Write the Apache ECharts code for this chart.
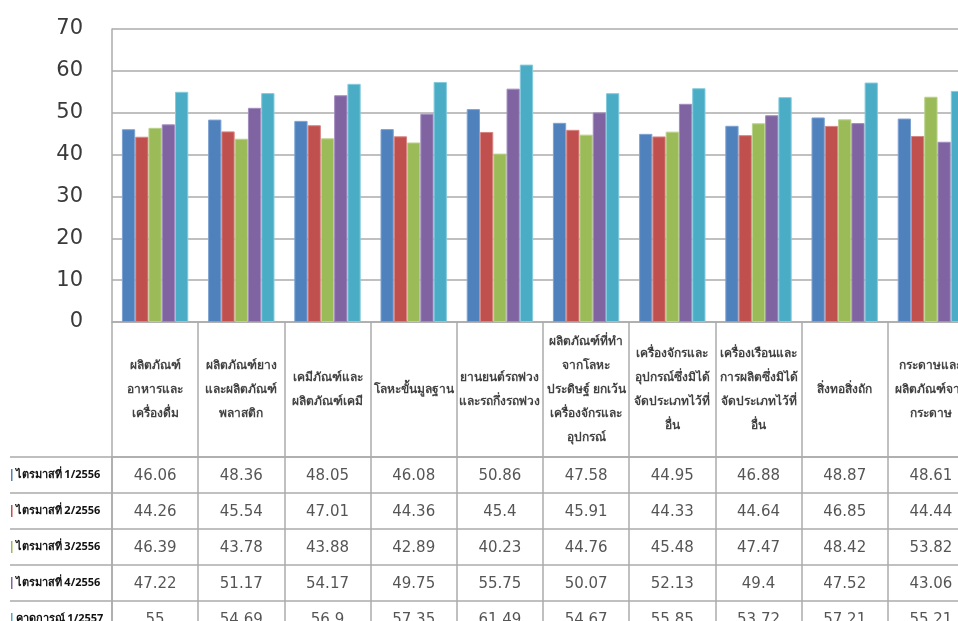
<!DOCTYPE html>
<html>
<head>
<meta charset="utf-8">
<script src="https://cdn.jsdelivr.net/npm/echarts@6/dist/echarts.min.js"></script>
<style>
html,body{margin:0;padding:0;background:#fff;overflow:hidden;width:958px;height:621px;}
#chart{width:990px;height:621px;}
</style>
</head>
<body>
<div id="chart"></div>
<script>
const categories = [
  'ผลิตภัณฑ์\nอาหารและ\nเครื่องดื่ม',
  'ผลิตภัณฑ์ยาง\nและผลิตภัณฑ์\nพลาสติก',
  'เคมีภัณฑ์และ\nผลิตภัณฑ์เคมี',
  'โลหะขั้นมูลฐาน',
  'ยานยนต์รถพ่วง\nและรถกึ่งรถพ่วง',
  'ผลิตภัณฑ์ที่ทำ\nจากโลหะ\nประดิษฐ์ ยกเว้น\nเครื่องจักรและ\nอุปกรณ์',
  'เครื่องจักรและ\nอุปกรณ์ซึ่งมิได้\nจัดประเภทไว้ที่\nอื่น',
  'เครื่องเรือนและ\nการผลิตซึ่งมิได้\nจัดประเภทไว้ที่\nอื่น',
  'สิ่งทอสิ่งถัก',
  'กระดาษและ\nผลิตภัณฑ์จาก\nกระดาษ'
];
const seriesNames = ['ไตรมาสที่ 1/2556', 'ไตรมาสที่ 2/2556', 'ไตรมาสที่ 3/2556', 'ไตรมาสที่ 4/2556', 'คาดการณ์ 1/2557'];
const q1_2556 = [46.06, 48.36, 48.05, 46.08, 50.86, 47.58, 44.95, 46.88, 48.87, 48.61];
const q2_2556 = [44.26, 45.54, 47.01, 44.36, 45.4, 45.91, 44.33, 44.64, 46.85, 44.44];
const q3_2556 = [46.39, 43.78, 43.88, 42.89, 40.23, 44.76, 45.48, 47.47, 48.42, 53.82];
const q4_2556 = [47.22, 51.17, 54.17, 49.75, 55.75, 50.07, 52.13, 49.4, 47.52, 43.06];
const f1_2557 = [55, 54.69, 56.9, 57.35, 61.49, 54.67, 55.85, 53.72, 57.21, 55.21];
const yTicks = { min: 0, max: 70, interval: 10 };

const allValues = [q1_2556, q2_2556, q3_2556, q4_2556, f1_2557];
const colors = ['#4F81BD', '#C0504D', '#9BBB59', '#8064A2', '#4BACC6'];
const borderColors = ['#7EA3D3', '#D88583', '#B9D28A', '#A38DC0', '#84CBDD'];
const gridColor = '#ABABAB';
const thaiFont = '"Noto Sans", "DejaVu Sans", sans-serif';

const chart = echarts.init(document.getElementById('chart'), null, { renderer: 'canvas' });

const rich = { t: { fontSize: 11, fontWeight: 'bold', color: '#111', fontFamily: thaiFont, padding: [0, 0, 0, 3] } };
colors.forEach((c, i) => { rich['k' + i] = { width: 1.5, height: 12, backgroundColor: c }; });

const barSeries = allValues.map((vals, i) => ({
  name: seriesNames[i],
  type: 'bar',
  xAxisIndex: 0,
  yAxisIndex: 0,
  data: vals,
  barGap: '0%',
  barCategoryGap: '23%',
  itemStyle: { color: colors[i], borderColor: borderColors[i], borderWidth: 1 },
  silent: true
}));

const cellData = [];
allValues.forEach((vals, s) => vals.forEach((v, c) => cellData.push([c, s, v])));

const headerData = categories.map((name, c) => [c, 0.5]);

const gridBase = { containLabel: false, outerBoundsMode: 'none' };
const lineStyle = { color: gridColor, width: 1.5 };

chart.setOption({
  animation: false,
  grid: [
    Object.assign({ left: 112, top: 29, width: 862, height: 293 }, gridBase),
    Object.assign({ left: 112, top: 322, width: 862, height: 135 }, gridBase),
    Object.assign({ left: 112, top: 457, width: 862, height: 180 }, gridBase)
  ],
  xAxis: [
    {
      gridIndex: 0, type: 'category', data: categories,
      axisLine: { show: true, lineStyle: lineStyle },
      axisTick: { show: false }, axisLabel: { show: false, interval: 0 }, splitLine: { show: false }
    },
    {
      gridIndex: 1, type: 'category', data: categories,
      axisLine: { show: true, lineStyle: lineStyle },
      axisTick: { show: false, interval: 0 }, axisLabel: { show: false, interval: 0 },
      splitLine: { show: true, interval: 0, lineStyle: lineStyle }
    },
    {
      gridIndex: 2, type: 'category', data: categories,
      axisLine: { show: false },
      axisTick: { show: false, interval: 0 }, axisLabel: { show: false, interval: 0 },
      splitLine: { show: true, interval: 0, lineStyle: lineStyle }
    }
  ],
  yAxis: [
    {
      gridIndex: 0, type: 'value', min: yTicks.min, max: yTicks.max, interval: yTicks.interval,
      axisLine: { show: true, lineStyle: lineStyle },
      axisTick: { show: false },
      axisLabel: { fontSize: 21, color: '#3A3A3A', fontFamily: '"DejaVu Sans", sans-serif', margin: 29 },
      splitLine: { show: true, lineStyle: lineStyle }
    },
    {
      gridIndex: 1, type: 'value', min: 0, max: 1,
      show: false
    },
    {
      gridIndex: 2, type: 'category', data: seriesNames, inverse: true,
      axisLine: { show: true, lineStyle: lineStyle },
      axisTick: { show: true, interval: 0, length: 102, lineStyle: lineStyle },
      axisLabel: {
        interval: 0, align: 'left', margin: 101,
        formatter: (v, i) => '{k' + i + '|}{t|' + v + '}',
        rich: rich
      },
      splitLine: { show: true, interval: 0, lineStyle: lineStyle }
    }
  ],
  series: barSeries.concat([
    {
      type: 'scatter', xAxisIndex: 1, yAxisIndex: 1,
      data: headerData, symbolSize: 1, itemStyle: { color: 'rgba(0,0,0,0)' },
      silent: true,
      label: {
        show: true, position: 'inside',
        formatter: p => categories[p.dataIndex],
        fontSize: 12, fontWeight: 'bold', color: '#111', lineHeight: 24,
        fontFamily: thaiFont, align: 'center', verticalAlign: 'middle'
      }
    },
    {
      type: 'scatter', xAxisIndex: 2, yAxisIndex: 2,
      data: cellData, symbolSize: 1, itemStyle: { color: 'rgba(0,0,0,0)' },
      silent: true,
      label: {
        show: true, position: 'inside',
        formatter: p => String(p.data[2]),
        fontSize: 15, color: '#2A2A2A', fontFamily: '"DejaVu Sans", sans-serif',
        align: 'center', verticalAlign: 'middle', offset: [0, 1]
      }
    }
  ])
});
</script>
</body>
</html>
